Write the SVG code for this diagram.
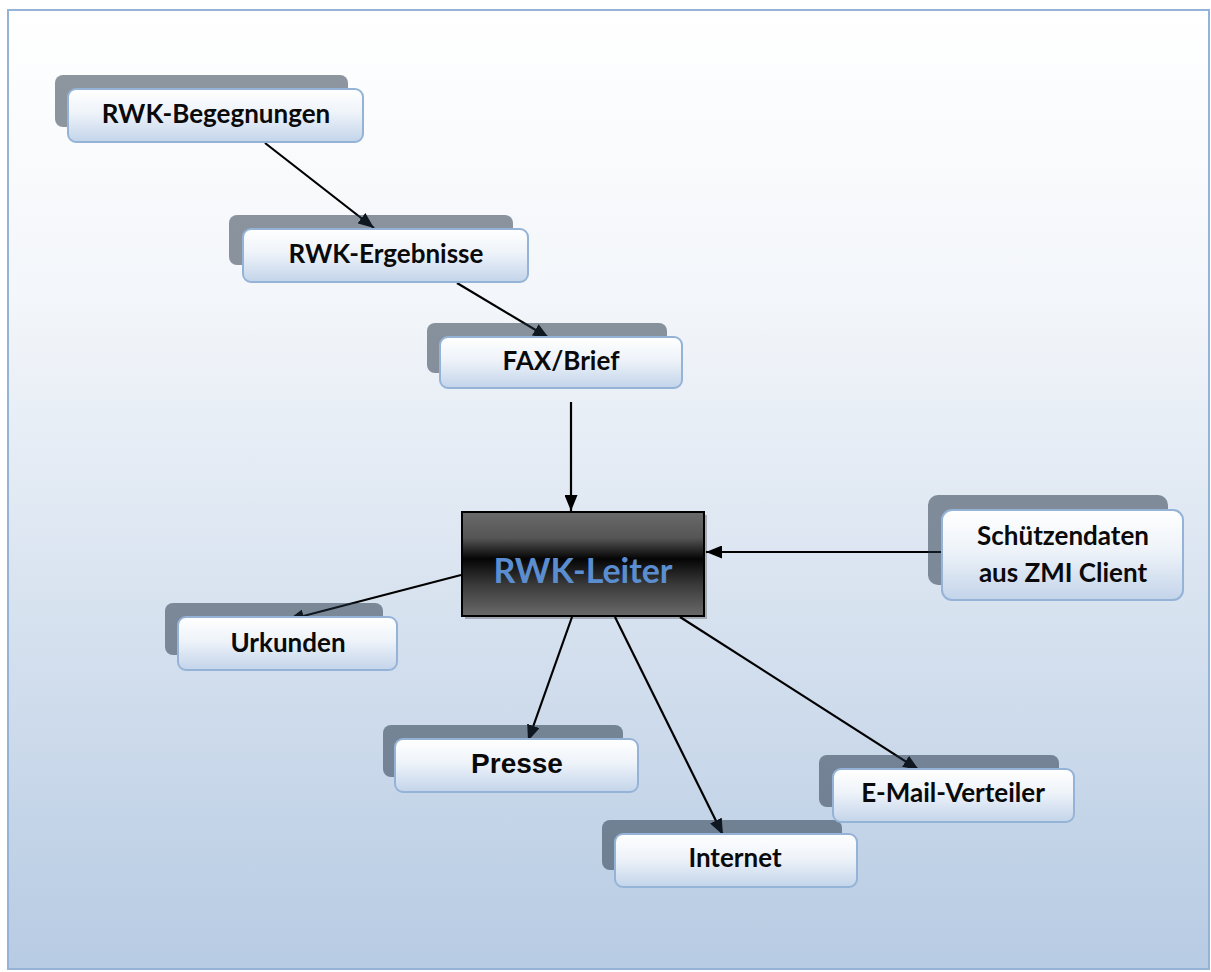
<svg xmlns="http://www.w3.org/2000/svg" width="1211" height="972" viewBox="0 0 1211 972">
<defs>
<linearGradient id="bg" x1="0" y1="0" x2="0" y2="1">
<stop offset="0" stop-color="#ffffff"/>
<stop offset="0.3" stop-color="#f3f6fa"/>
<stop offset="1" stop-color="#b7cbe3"/>
</linearGradient>
<linearGradient id="box" x1="0" y1="0" x2="0" y2="1">
<stop offset="0" stop-color="#ffffff"/>
<stop offset="0.45" stop-color="#eef3f9"/>
<stop offset="1" stop-color="#c3d4ea"/>
</linearGradient>
<linearGradient id="dark" x1="0" y1="0" x2="0" y2="1">
<stop offset="0" stop-color="#6a6a6a"/>
<stop offset="0.25" stop-color="#555555"/>
<stop offset="0.45" stop-color="#050505"/>
<stop offset="0.7" stop-color="#3a3a3a"/>
<stop offset="1" stop-color="#6a6a6a"/>
</linearGradient>
<marker id="arr" viewBox="0 0 16 13" refX="16" refY="6.5" markerWidth="16" markerHeight="13" markerUnits="userSpaceOnUse" orient="auto">
<path d="M0,0 L16,6.5 L0,13 z" fill="#000"/>
</marker>
</defs>
<style>
.sh{fill:#1e2d40;fill-opacity:0.5}
.fr{fill:url(#box);stroke:#95b3d7;stroke-width:2}
.t{font-family:Lato,"Open Sans",sans-serif;font-weight:700;font-size:26px;fill:#0a0a0a;text-anchor:middle}
.c{stroke:#000;stroke-width:2.2;fill:none;marker-end:url(#arr)}
</style>
<rect x="8" y="10" width="1201" height="959" fill="url(#bg)" stroke="#95b3d7" stroke-width="2"/>

<g id="connectors">
<line class="c" x1="265" y1="143" x2="374" y2="228"/>
<line class="c" x1="457" y1="283" x2="549" y2="338"/>
<line class="c" x1="571" y1="402" x2="571" y2="511"/>
<line class="c" x1="943" y1="552" x2="706" y2="552"/>
<line class="c" x1="461" y1="575" x2="288" y2="620"/>
<line class="c" x1="572" y1="617" x2="528" y2="741"/>
<line class="c" x1="615" y1="617" x2="723" y2="835"/>
<line class="c" x1="680" y1="617" x2="919" y2="770"/>
</g>

<g id="n-begegnungen">
<rect class="sh" x="55" y="75" width="293" height="52" rx="8"/>
<rect class="fr" x="68" y="89" width="295" height="53" rx="8"/>
<text class="t" x="216" y="123">RWK-Begegnungen</text>
</g>
<g id="n-ergebnisse">
<rect class="sh" x="229" y="215" width="284" height="50" rx="8"/>
<rect class="fr" x="243" y="229" width="285" height="53" rx="8"/>
<text class="t" x="386" y="263">RWK-Ergebnisse</text>
</g>
<g id="n-fax">
<rect class="sh" x="427" y="323" width="240" height="50" rx="8"/>
<rect class="fr" x="440" y="337" width="242" height="51" rx="8"/>
<text class="t" x="561" y="370">FAX/Brief</text>
</g>
<g id="n-leiter">
<rect x="465" y="515" width="242" height="104" fill="#000" fill-opacity="0.25"/>
<rect x="462" y="512" width="242" height="104" fill="url(#dark)" stroke="#000" stroke-width="2"/>
<text x="583" y="583" font-family="Lato,'Open Sans',sans-serif" font-weight="700" font-size="34" fill="#5b8ed0" text-anchor="middle">RWK-Leiter</text>
</g>
<g id="n-schuetzen">
<rect class="sh" x="928" y="495" width="240" height="90" rx="10"/>
<rect class="fr" x="942" y="510" width="241" height="90" rx="10"/>
<text class="t" x="1063" y="545">Schützendaten</text>
<text class="t" x="1063" y="582">aus ZMI Client</text>
</g>
<g id="n-urkunden">
<rect class="sh" x="165" y="603" width="218" height="52" rx="8"/>
<rect class="fr" x="178" y="617" width="219" height="53" rx="8"/>
<text class="t" x="288" y="652">Urkunden</text>
</g>
<g id="n-presse">
<rect class="sh" x="383" y="725" width="240" height="52" rx="8"/>
<rect class="fr" x="395" y="739" width="243" height="53" rx="8"/>
<text x="517" y="773" font-family="'Liberation Sans',Arial,sans-serif" font-weight="700" font-size="28" fill="#0a0a0a" text-anchor="middle">Presse</text>
</g>
<g id="n-internet">
<rect class="sh" x="602" y="820" width="240" height="50" rx="8"/>
<rect class="fr" x="615" y="834" width="242" height="53" rx="8"/>
<text class="t" x="735" y="867">Internet</text>
</g>
<g id="n-email">
<rect class="sh" x="819" y="755" width="240" height="52" rx="8"/>
<rect class="fr" x="833" y="769" width="241" height="53" rx="8"/>
<text class="t" x="953" y="802">E-Mail-Verteiler</text>
</g>
</svg>
